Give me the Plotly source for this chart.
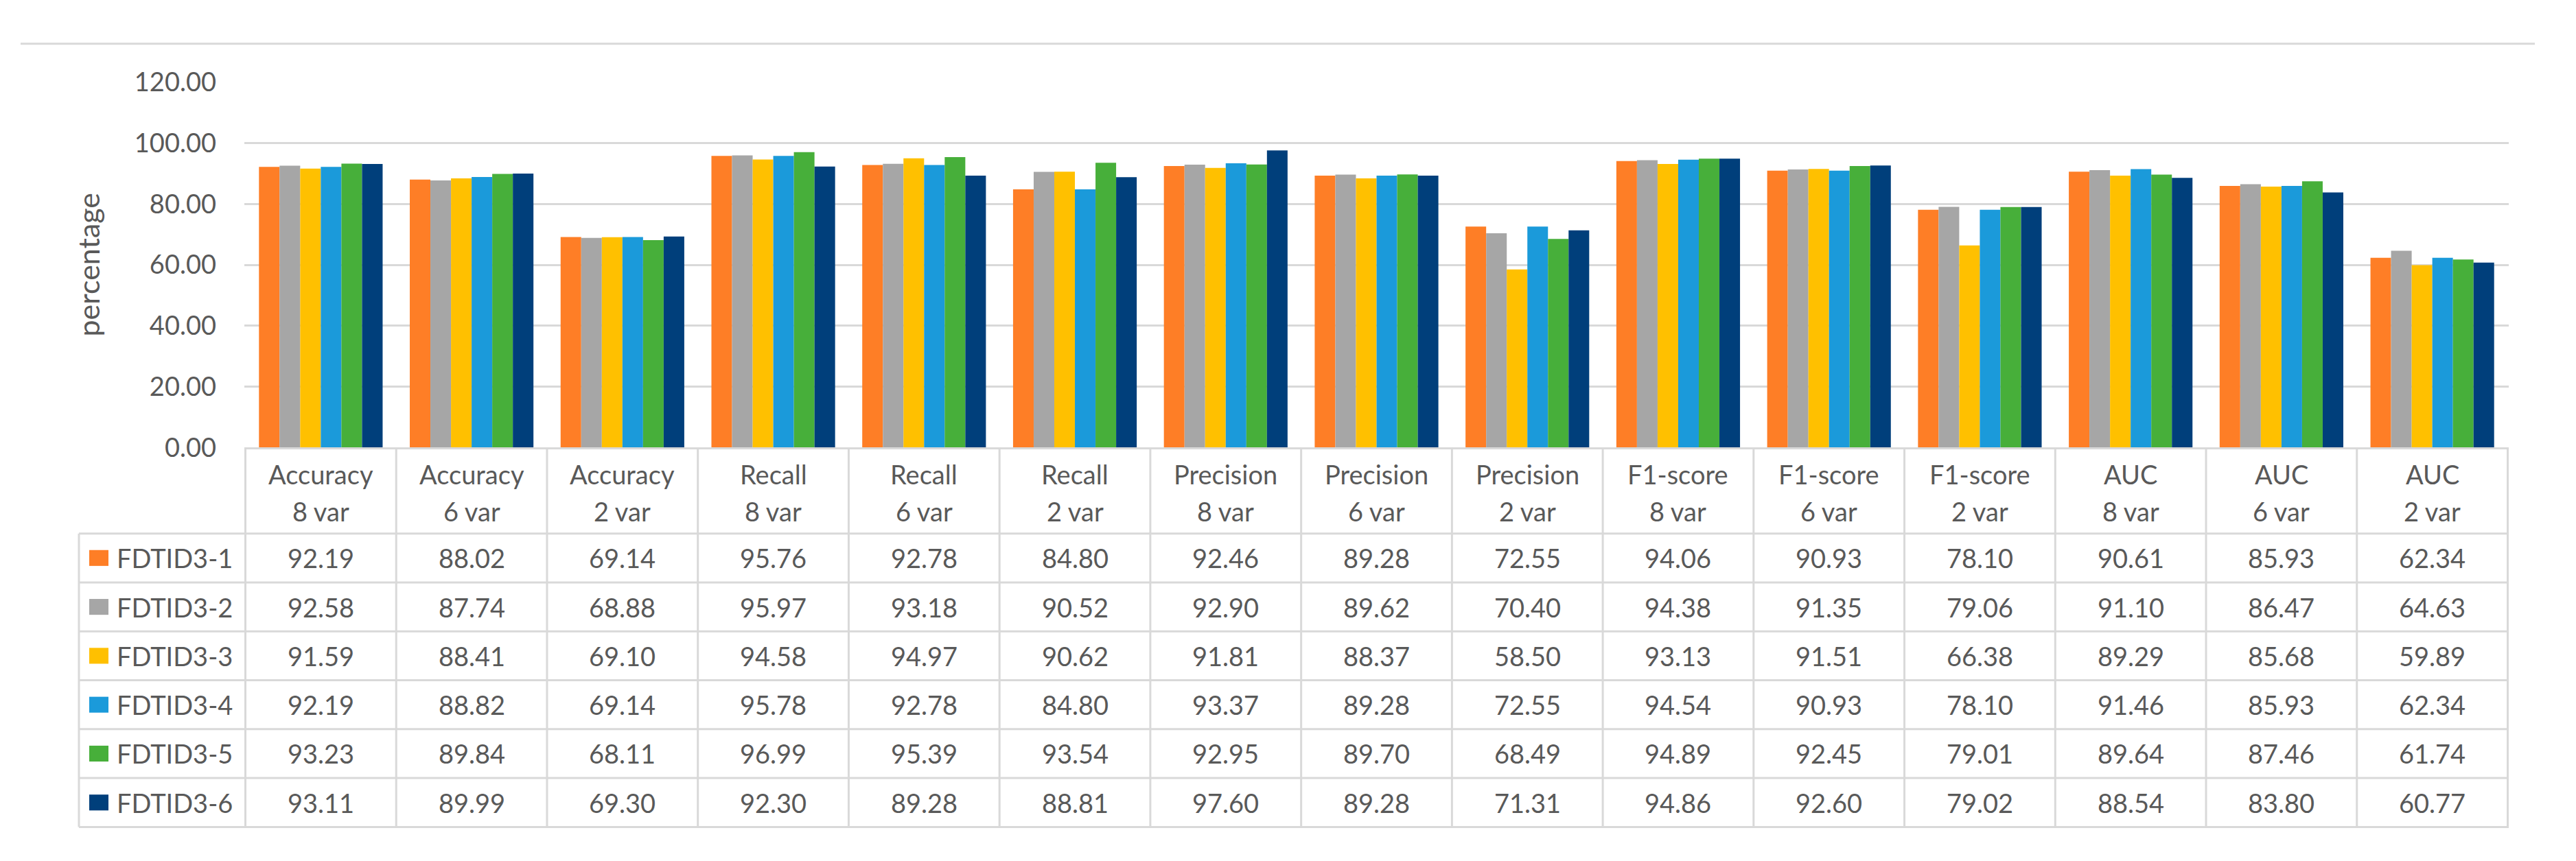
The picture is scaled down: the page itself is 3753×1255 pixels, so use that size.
import plotly.graph_objects as go

# ---------------- data ----------------
metrics = ["Accuracy", "Accuracy", "Accuracy", "Recall", "Recall", "Recall",
           "Precision", "Precision", "Precision", "F1-score", "F1-score", "F1-score",
           "AUC", "AUC", "AUC"]
var_labels = ["8 var", "6 var", "2 var"] * 5
categories = [f"{m} {v}" for m, v in zip(metrics, var_labels)]

series_names = ["FDTID3-1", "FDTID3-2", "FDTID3-3", "FDTID3-4", "FDTID3-5", "FDTID3-6"]
fdtid3_1 = [92.19, 88.02, 69.14, 95.76, 92.78, 84.80, 92.46, 89.28, 72.55, 94.06, 90.93, 78.10, 90.61, 85.93, 62.34]
fdtid3_2 = [92.58, 87.74, 68.88, 95.97, 93.18, 90.52, 92.90, 89.62, 70.40, 94.38, 91.35, 79.06, 91.10, 86.47, 64.63]
fdtid3_3 = [91.59, 88.41, 69.10, 94.58, 94.97, 90.62, 91.81, 88.37, 58.50, 93.13, 91.51, 66.38, 89.29, 85.68, 59.89]
fdtid3_4 = [92.19, 88.82, 69.14, 95.78, 92.78, 84.80, 93.37, 89.28, 72.55, 94.54, 90.93, 78.10, 91.46, 85.93, 62.34]
fdtid3_5 = [93.23, 89.84, 68.11, 96.99, 95.39, 93.54, 92.95, 89.70, 68.49, 94.89, 92.45, 79.01, 89.64, 87.46, 61.74]
fdtid3_6 = [93.11, 89.99, 69.30, 92.30, 89.28, 88.81, 97.60, 89.28, 71.31, 94.86, 92.60, 79.02, 88.54, 83.80, 60.77]
series_values = [fdtid3_1, fdtid3_2, fdtid3_3, fdtid3_4, fdtid3_5, fdtid3_6]

y_ticks = [0, 20, 40, 60, 80, 100, 120]

# ---------------- style ----------------
colors = ["#FE7E26", "#A6A6A6", "#FFC000", "#1B9ADA", "#47AF3A", "#003F7B"]
W, H = 3753, 1255
FONT = "Lato"
TXT = "#595959"
GRID = "#D9D9D9"
FS = 38


def px(x):
    return x / W


def py(y):
    return 1 - y / H


fig = go.Figure()
for name, vals, col in zip(series_names, series_values, colors):
    fig.add_trace(go.Bar(x=categories, y=vals, name=name, marker_color=col,
                         marker_line_width=0, showlegend=False))

plot_left, plot_right = 348, 3647
y_zero, y_top = 643, 90

fig.update_layout(
    width=W, height=H, autosize=False,
    margin=dict(l=0, r=0, t=0, b=0),
    paper_bgcolor="white", plot_bgcolor="white",
    barmode="group", bargap=0.18, bargroupgap=0,
    font=dict(family=FONT, color=TXT, size=FS),
    xaxis=dict(domain=[px(plot_left), px(plot_right)], type="category",
               categoryorder="array", categoryarray=categories,
               showticklabels=False, showgrid=False, zeroline=False,
               showline=True, linecolor=GRID, linewidth=3, ticks=""),
    yaxis=dict(domain=[py(y_zero), py(y_top)], range=[0, 120], tickvals=y_ticks,
               tickformat=".2f", showgrid=True, gridcolor=GRID, gridwidth=3,
               zeroline=False, showline=False, ticks="",
               ticklabelstandoff=40, tickfont=dict(size=FS, color=TXT, family=FONT)),
)

shapes = []
annotations = []

# top rule
shapes.append(dict(type="line", xref="paper", yref="paper", x0=px(22), x1=px(3685),
                   y0=py(32), y1=py(32), line=dict(color=GRID, width=3)))

# y axis title
annotations.append(dict(text="percentage", xref="paper", yref="paper", x=px(121), y=py(366),
                        textangle=-90, showarrow=False, font=dict(size=43, color=TXT, family=FONT),
                        xanchor="center", yanchor="middle"))

# table geometry
table_left = 107
header_top = y_zero
row_bounds = [773, 847, 921, 995, 1069, 1143, 1217]
n = len(categories)

# vertical column lines (aligned to category axis)
for i in range(n + 1):
    shapes.append(dict(type="line", xref="x", yref="paper", x0=i - 0.5, x1=i - 0.5,
                       y0=py(header_top), y1=py(row_bounds[-1]),
                       line=dict(color=GRID, width=3)))
# left border of label column
shapes.append(dict(type="line", xref="paper", yref="paper", x0=px(table_left), x1=px(table_left),
                   y0=py(row_bounds[0]), y1=py(row_bounds[-1]), line=dict(color=GRID, width=3)))
# horizontal row lines
for yb in row_bounds:
    shapes.append(dict(type="line", xref="paper", yref="paper", x0=px(table_left), x1=px(plot_right),
                       y0=py(yb), y1=py(yb), line=dict(color=GRID, width=3)))

# header texts
for c, m, v in zip(categories, metrics, var_labels):
    annotations.append(dict(text=m, xref="x", yref="paper", x=c, y=py(683), showarrow=False,
                            xanchor="center", yanchor="middle", font=dict(size=FS, color=TXT, family=FONT)))
    annotations.append(dict(text=v, xref="x", yref="paper", x=c, y=py(739), showarrow=False,
                            xanchor="center", yanchor="middle", font=dict(size=FS, color=TXT, family=FONT)))

# rows
for r, (name, vals, col) in enumerate(zip(series_names, series_values, colors)):
    yc = (row_bounds[r] + row_bounds[r + 1]) / 2
    shapes.append(dict(type="rect", xref="paper", yref="paper", x0=px(122), x1=px(150),
                       y0=py(yc - 12), y1=py(yc + 12), fillcolor=col, line=dict(width=0)))
    annotations.append(dict(text=name, xref="paper", yref="paper", x=px(160), y=py(yc),
                            showarrow=False, xanchor="left", yanchor="middle",
                            font=dict(size=FS, color=TXT, family=FONT)))
    for c, v in zip(categories, vals):
        annotations.append(dict(text=f"{v:.2f}", xref="x", yref="paper", x=c, y=py(yc),
                                showarrow=False, xanchor="center", yanchor="middle",
                                font=dict(size=FS, color=TXT, family=FONT)))

fig.update_layout(shapes=shapes, annotations=annotations)
fig.write_html("out.html")
